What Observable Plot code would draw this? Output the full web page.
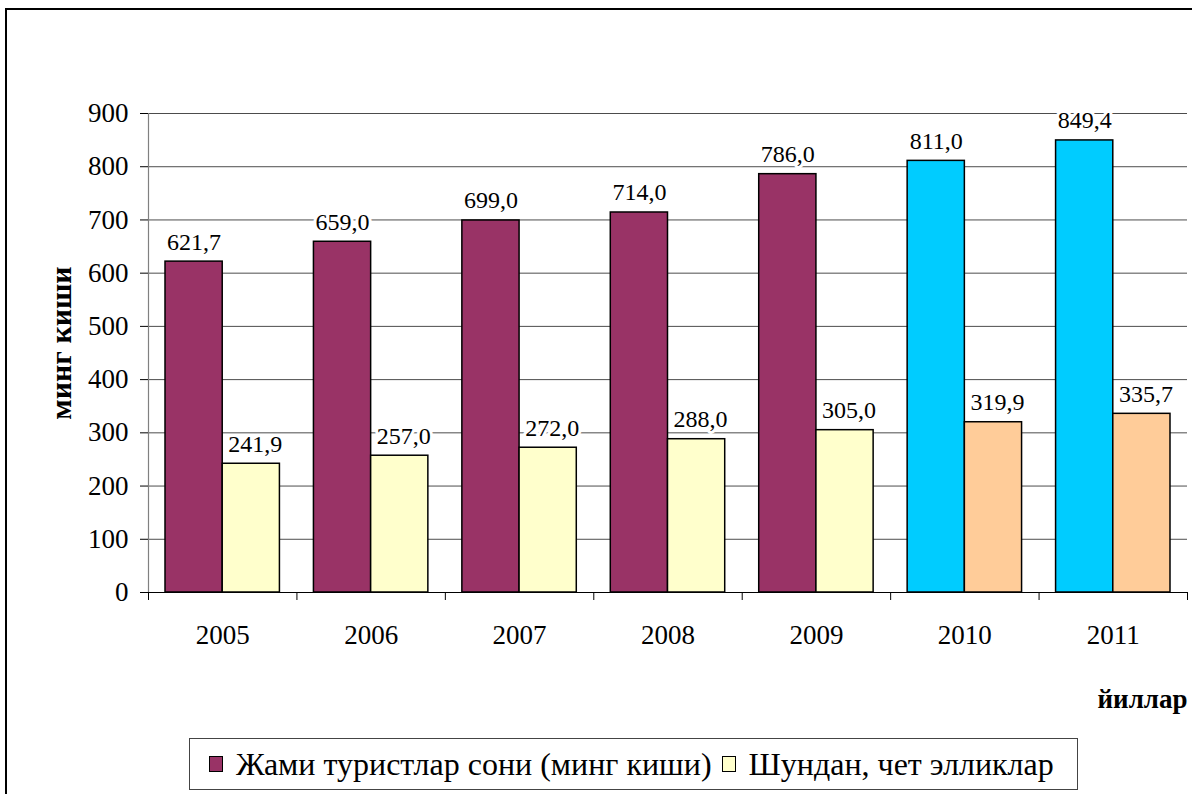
<!DOCTYPE html>
<html>
<head>
<meta charset="utf-8">
<script src="https://cdn.jsdelivr.net/npm/d3@7"></script>
<script src="https://cdn.jsdelivr.net/npm/@observablehq/plot@0.6"></script>
</head>
<body style="margin:0;padding:0;background:#fff;overflow:hidden;font-family:'Liberation Serif'">
<div id="frame" style="position:absolute;left:5px;top:8px;width:1300px;height:900px;border:2px solid #000;box-sizing:border-box"></div>
<div id="chart" style="position:absolute;left:0;top:0;font-family:'Liberation Serif'"></div>
<div id="legend" style="position:absolute;left:189px;top:738px;width:889px;height:52px;border:1.5px solid #444;box-sizing:border-box;display:flex;align-items:center;font-family:'Liberation Serif';font-size:32px;color:#000;white-space:nowrap"></div>
<script>
const years = [2005, 2006, 2007, 2008, 2009, 2010, 2011];
const totalTourists = [621.7, 659.0, 699.0, 714.0, 786.0, 811.0, 849.4];
const foreignTourists = [241.9, 257.0, 272.0, 288.0, 305.0, 319.9, 335.7];
const yTicks = [0, 100, 200, 300, 400, 500, 600, 700, 800, 900];
const seriesNames = ["Жами туристлар сони (минг киши)", "Шундан, чет элликлар"];
const yTitle = "минг киши";
const xTitle = "йиллар";
const highlightFrom = 2010;

const colors = {
  total: "#993366", foreign: "#FFFFCC",
  totalHi: "#00CCFF", foreignHi: "#FFCC99"
};
const gap = 17 / 148.4;
const fmt = v => d3.format(".1f")(v).replace(".", ",");

const rows = years.flatMap((yr, i) => [
  {i, year: yr, series: 0, value: totalTourists[i]},
  {i, year: yr, series: 1, value: foreignTourists[i]}
]);
const fillOf = d => d.series === 0
  ? (d.year >= highlightFrom ? colors.totalHi : colors.total)
  : (d.year >= highlightFrom ? colors.foreignHi : colors.foreign);
const x1 = d => d.i + (d.series === 0 ? gap : 0.5);
const x2 = d => d.i + (d.series === 0 ? 0.5 : 1 - gap);
const xc = d => (x1(d) + x2(d)) / 2;

const chart = Plot.plot({
  width: 1192,
  height: 730,
  marginLeft: 148,
  marginRight: 5,
  marginTop: 113,
  marginBottom: 138,
  x: {domain: [0, years.length]},
  y: {domain: [0, 900]},
  style: {fontFamily: "Liberation Serif", background: "transparent", color: "#000"},
  marks: [
    Plot.ruleY(yTicks.filter(v => v > 0), {stroke: "#000", strokeOpacity: 0.7, strokeWidth: 1}),
    Plot.ruleX([0], {stroke: "#808080", strokeWidth: 1.2}),
    Plot.axisY(yTicks, {tickSize: 8, tickPadding: 12, fontSize: 27, label: null}),
    Plot.axisX(d3.range(years.length + 1), {tickSize: 8, tickFormat: () => "", label: null}),
    Plot.axisX(years.map((_, i) => i + 0.5), {tickSize: 0, tickPadding: 32, fontSize: 27, label: null,
      tickFormat: v => String(years[Math.floor(v)])}),
    Plot.rect(rows, {x1, x2, y1: 0, y2: "value", fill: fillOf, stroke: "#000", strokeWidth: 1.5}),
    Plot.ruleY([0], {stroke: "#000", strokeWidth: 1.2}),
    Plot.text(rows.filter(d => d.series === 0), {x: xc, y: "value", text: d => fmt(d.value), dy: -12,
      lineAnchor: "bottom", fontSize: 24, fill: "#000", stroke: "#fff", strokeWidth: 6}),
    Plot.text(rows.filter(d => d.series === 1), {x: xc, y: "value", text: d => fmt(d.value), dy: -12, dx: 4,
      lineAnchor: "bottom", fontSize: 24, fill: "#000", stroke: "#fff", strokeWidth: 6}),
    Plot.text([yTitle], {text: d => d, frameAnchor: "left", textAnchor: "middle", rotate: -90, dx: -87, dy: -10,
      fontWeight: "bold", fontSize: 30, fill: "#000"}),
    Plot.text([xTitle], {text: d => d, frameAnchor: "bottom-right", textAnchor: "end", dy: 107,
      lineAnchor: "middle", fontWeight: "bold", fontSize: 27, fill: "#000"})
  ]
});
d3.select(chart).selectAll("text").style("font-family", "Liberation Serif");
document.getElementById("chart").appendChild(chart);

const legend = d3.select("#legend");
const swatches = [colors.total, colors.foreign];
seriesNames.forEach((name, k) => {
  const item = legend.append("div")
    .style("display", "flex").style("align-items", "center")
    .style("margin-left", k === 0 ? "19px" : "10px");
  item.append("div")
    .style("width", "14px").style("height", "16px").style("border", "1.5px solid #000")
    .style("box-sizing", "border-box").style("margin-right", "13px")
    .style("background", swatches[k]);
  item.append("span").style("font-family", "Liberation Serif").text(name);
});
</script>
</body>
</html>
